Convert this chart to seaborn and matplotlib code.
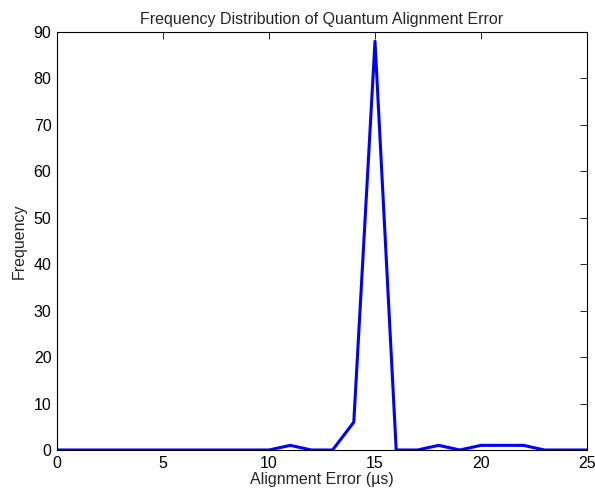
import numpy as np
import pandas as pd
import matplotlib
matplotlib.use("Agg")
import matplotlib.pyplot as plt
import seaborn as sns

# Data
error_us = list(range(0, 26))
frequency = [0, 0, 0, 0, 0, 0, 0, 0, 0, 0, 0, 1, 0, 0, 6, 88, 0, 0, 1, 0, 1, 1, 1, 0, 0, 0]

df = pd.DataFrame({"error": error_us, "freq": frequency})

sns.set_style("white")
plt.rcParams['font.family'] = ['Liberation Sans', 'DejaVu Sans']

fig = plt.figure(figsize=(5.95, 4.95), dpi=100)
# axes box: left 57, right 587, top 32, bottom 450 px
ax = fig.add_axes([57 / 595, 45 / 495, 530 / 595, 418 / 495])

sns.lineplot(data=df, x="error", y="freq", ax=ax, color="#0000ff", linewidth=2.2)

ax.set_xlim(0, 25)
ax.set_ylim(0, 90)
ax.set_xticks(np.arange(0, 26, 5))
ax.set_yticks(np.arange(0, 91, 10))
ax.tick_params(direction="in", length=5, width=0.6, top=True, right=True,
               labelsize=11.5, pad=4, colors="black")
for s in ax.spines.values():
    s.set_visible(True)
    s.set_color("black")
    s.set_linewidth(0.8)

ax.set_title("Frequency Distribution of Quantum Alignment Error", fontsize=11.5, pad=6)
ax.set_xlabel("Alignment Error (\u00b5s)", fontsize=11.5, labelpad=1)
ax.set_ylabel("Frequency", fontsize=11.5, labelpad=5)

fig.savefig("out.png", dpi=100)
